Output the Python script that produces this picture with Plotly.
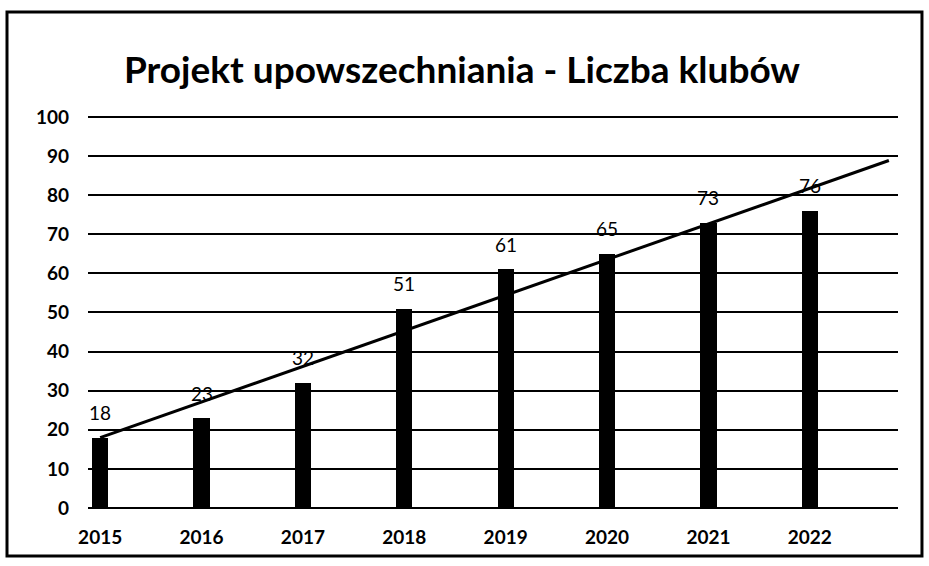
import numpy as np
import plotly.graph_objects as go

# Club counts per year
years = ["2015", "2016", "2017", "2018", "2019", "2020", "2021", "2022"]
clubs = [18, 23, 32, 51, 61, 65, 73, 76]
y_ticks = [0, 10, 20, 30, 40, 50, 60, 70, 80, 90, 100]

title_text = "Projekt upowszechniania - Liczba klubów"
FONT = "Lato"

x_pos = np.arange(len(years))

# Linear trend fitted to the counts, projected a little beyond the last year
slope, intercept = np.polyfit(x_pos, clubs, 1)
trend_x = np.array([0.0, len(years) - 1 + 0.78])
trend_y = intercept + slope * trend_x

fig = go.Figure()

fig.add_trace(go.Bar(
    x=x_pos,
    y=clubs,
    width=0.16,
    marker=dict(color="black", line=dict(width=0)),
    showlegend=False,
    hoverinfo="x+y",
))

fig.add_trace(go.Scatter(
    x=trend_x,
    y=trend_y,
    mode="lines",
    line=dict(color="black", width=3),
    showlegend=False,
    hoverinfo="skip",
))

# Value labels above each bar
for xi, v in zip(x_pos, clubs):
    fig.add_annotation(
        x=xi, y=v, text=str(v), showarrow=False,
        yshift=25, xanchor="center", yanchor="middle",
        font=dict(family=FONT, size=19, color="black"),
    )

# Outer frame around the whole chart
fig.add_shape(
    type="rect", xref="paper", yref="paper",
    x0=-0.1, x1=1.0296, y0=-0.1221, y1=1.2621,
    line=dict(color="black", width=3), fillcolor="rgba(0,0,0,0)",
    layer="below",
)

fig.update_layout(
    width=929,
    height=566,
    margin=dict(l=88, r=31, t=115, b=58),
    paper_bgcolor="white",
    plot_bgcolor="white",
    bargap=0,
    title=dict(
        text="<b>" + title_text + "</b>",
        x=462 / 929, xref="container", xanchor="center",
        y=1 - 70 / 566, yref="container", yanchor="middle",
        font=dict(family=FONT, size=37, color="black"),
    ),
    xaxis=dict(
        range=[-0.12, 7.87],
        tickmode="array",
        tickvals=x_pos,
        ticktext=years,
        showgrid=False,
        zeroline=False,
        showline=False,
        ticks="",
        ticklen=0,
        ticklabelstandoff=16,
        tickfont=dict(family=FONT, size=19, color="black", weight="bold"),
    ),
    yaxis=dict(
        range=[0, 100.5],
        tickmode="array",
        tickvals=y_ticks,
        showgrid=True,
        gridcolor="black",
        gridwidth=2,
        zeroline=True,
        zerolinecolor="black",
        zerolinewidth=2,
        showline=False,
        ticks="",
        ticklabelstandoff=18,
        tickfont=dict(family=FONT, size=19, color="black", weight="bold"),
    ),
)

fig.write_html("out.html")
